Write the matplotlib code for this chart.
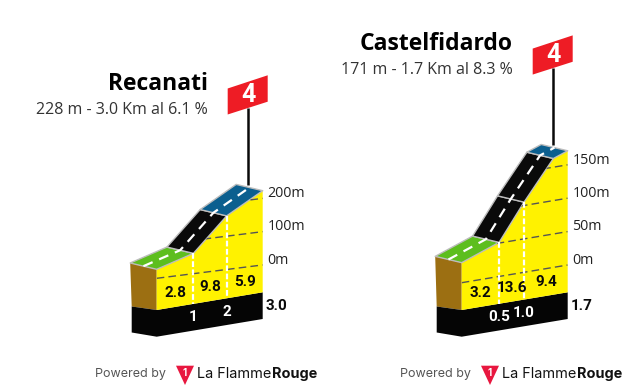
import numpy as np
import matplotlib
matplotlib.use("Agg")
import matplotlib.pyplot as plt
from matplotlib.patches import Polygon

# Recanati
rec_name = "Recanati"
rec_info = "228 m - 3.0 Km al 6.1 %"
rec_km = [0, 1.04, 1.98, 3.0]
rec_alt = [27, 61, 161, 223]
rec_road = ["#5DBE1E", "#0A0A0A", "#0B5F8F"]
rec_grades = ["2.8", "9.8", "5.9"]
rec_marks = ["1", "2"]
rec_total = "3.0"
rec_ticks = [0, 100, 200]
rec_category = "4"

# Castelfidardo
cas_name = "Castelfidardo"
cas_info = "171 m - 1.7 Km al 8.3 %"
cas_km = [0, 0.6, 1.0, 1.47, 1.7]
cas_alt = [30, 51, 105, 163, 171]
cas_road = ["#5DBE1E", "#0A0A0A", "#0A0A0A", "#0B5F8F"]
cas_grades = ["3.2", "13.6", "9.4"]
cas_marks = ["0.5", "1.0"]
cas_total = "1.7"
cas_ticks = [0, 50, 100, 150]
cas_category = "4"

DEPTH = np.array([-26.5, -6.3])

fig = plt.figure(figsize=(6.27, 3.91), dpi=100)
ax = fig.add_axes([0, 0, 1, 1])
ax.set_xlim(0, 627)
ax.set_ylim(391, 0)
ax.axis("off")


def draw_climb(name, info, km, alt, road, grades, marks, total, ticks, cat,
               x0, px_km, y0, px_m, skew):
    km = np.array(km, dtype=float)
    alt = np.array(alt, dtype=float)
    x = x0 + km * px_km
    x1 = x[-1]

    def level(xx, a):
        return y0 - skew * (xx - x0) - a * px_m

    def base(xx):
        return 310 - 0.167 * (xx - x0)

    top = np.column_stack([x, level(x, alt)])

    # side and foot of the block
    ax.add_patch(Polygon([top[0], top[0] + DEPTH, (x0 - 25, 306.5), (x0, 310)],
                         fc="#9C6F12", ec="none"))
    ax.add_patch(Polygon([(x0 - 25, 306.5), (x0, 310), (x1, base(x1)),
                          (x1, base(x1) + 26.7), (x0, 336.7), (x0 - 25, 332.5)],
                         fc="#050505", ec="none"))

    # yellow wall with the altitude lines clipped to it
    wall = Polygon(list(top) + [(x1, base(x1)), (x0, base(x0))], fc="#FFF200", ec="none")
    ax.add_patch(wall)
    for t in ticks:
        line, = ax.plot([x0, x1], [level(x0, t), level(x1, t)], color="#555555",
                        lw=1, dashes=(5.5, 3))
        line.set_clip_path(wall)
        ax.text(x1 + 4.6, level(x1, t) - 4.7, f"{t}m", fontsize=10.3, family="Open Sans",
                color="#222222", va="center", ha="left")

    # road segments
    for i, color in enumerate(road):
        ax.add_patch(Polygon([top[i], top[i + 1], top[i + 1] + DEPTH, top[i] + DEPTH],
                             fc=color, ec="#BDBDBD", lw=1, joinstyle="round"))
    mid = top + DEPTH / 2
    ax.plot(mid[:, 0], mid[:, 1], color="white", lw=1.6, dashes=(4.5, 3.2))

    # km splits: the first and last of the marks are the ends of the climb
    split_km = [km[0]] + [km[i] for i in range(1, len(grades))] + [km[-1]]
    split_x = x0 + np.array(split_km) * px_km
    for sx in split_x[1:-1]:
        i = np.argmin(abs(x - sx))
        ax.plot([sx, sx], [top[i, 1], base(sx)], color="white", lw=1.6, dashes=(2.6, 1.1))
    for i, g in enumerate(grades):
        xm = (split_x[i] + split_x[i + 1]) / 2
        ax.text(xm, base(xm) - 13.6, g, fontsize=11, family="Roboto", weight="bold",
                color="#0A0A0A", ha="center", va="center")
    for sx, m in zip(split_x[1:-1], marks):
        ax.text(sx, base(sx) + 13.4, m, fontsize=11, family="Roboto", weight="bold",
                color="white", ha="center", va="center")
    ax.text(x1 + 13.5, base(x1) + 13.5, total, fontsize=11, family="Roboto", weight="bold",
            color="#0A0A0A", ha="center", va="center")

    # flag
    px = x1 - 15
    py = top[-1, 1] - 5.7
    ax.plot([px, px], [py, py - 77], color="#0A0A0A", lw=1.8, solid_capstyle="butt")
    ax.add_patch(Polygon([(px - 20, py - 96.5), (px + 20, py - 109.7),
                          (px + 20, py - 83.3), (px - 20, py - 70.5)],
                         fc="#EE1C25", ec="none"))
    ax.text(px + 0.7, py - 90, cat, fontsize=18, family="Roboto", weight="bold",
            color="white", ha="center", va="center")

    # titles
    ax.text(x0 + 50.8, py - 101.3, name, fontsize=16.5, family="Open Sans", weight="bold",
            color="black", ha="right", va="center")
    ax.text(x0 + 50.8, py - 75, info, fontsize=11.5, family="Open Sans",
            color="#333333", ha="right", va="center")

    # footer
    ax.text(x0 - 61.7, 374, "Powered by", fontsize=9, family="Inter", color="#555555",
            ha="left", va="center")
    ax.add_patch(Polygon([(x0 + 19.3, 365.7), (x0 + 37.3, 365.7), (x0 + 28.3, 385)],
                         fc="#E8173F", ec="none"))
    ax.text(x0 + 28.3, 372.5, "1", fontsize=7, family="Inter", weight="bold", color="white",
            ha="center", va="center")
    ax.text(x0 + 40, 374, "La Flamme", fontsize=10.4, family="Inter", color="#111111",
            ha="left", va="center")
    ax.text(x0 + 160.6, 374, "Rouge", fontsize=10.4, family="Inter", weight="bold",
            color="#111111", ha="right", va="center")


draw_climb(rec_name, rec_info, rec_km, rec_alt, rec_road, rec_grades, rec_marks, rec_total,
           rec_ticks, rec_category, 156.7, 35.33, 278.3, 0.333, 0.126)
draw_climb(cas_name, cas_info, cas_km, cas_alt, cas_road, cas_grades, cas_marks, cas_total,
           cas_ticks, cas_category, 461.7, 62.35, 282.7, 0.668, 0.167)

fig.savefig("out.png", dpi=100)
